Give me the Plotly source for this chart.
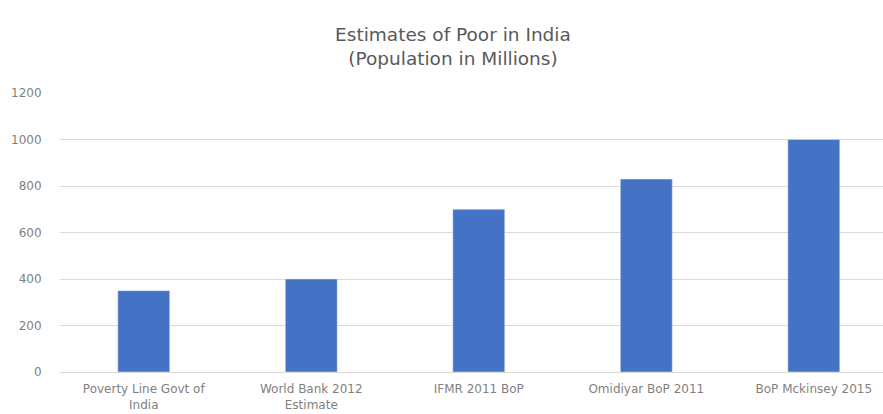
import plotly.graph_objects as go

categories = ["Poverty Line Govt of<br>India", "World Bank 2012<br>Estimate", "IFMR 2011 BoP",
              "Omidiyar BoP 2011", "BoP Mckinsey 2015"]
values = [350, 400, 700, 830, 1000]
y_ticks = [0, 200, 400, 600, 800, 1000, 1200]

fig = go.Figure(go.Bar(x=categories, y=values, marker_color="#4472C4", width=0.31))

fig.update_layout(
    width=883, height=414,
    margin=dict(l=60, r=0, t=93, b=42, autoexpand=False),
    paper_bgcolor="white", plot_bgcolor="white",
    font=dict(family="DejaVu Sans, sans-serif", color="#7f7f7f", size=11),
    title=dict(text="Estimates of Poor in India<br>(Population in Millions)",
               x=0.513, xanchor="center", y=0.9, yanchor="top",
               font=dict(size=18.5, color="#595959", family="DejaVu Sans, sans-serif")),
    showlegend=False,
)
fig.update_xaxes(type="category", range=[-0.5, 4.413], showgrid=False, automargin=False,
                 showline=True, linecolor="#d9d9d9", linewidth=1,
                 ticks="outside", ticklen=6, tickcolor="rgba(0,0,0,0)",
                 tickfont=dict(size=12, color="#7f7f7f"))
fig.update_yaxes(range=[0, 1200], tickvals=y_ticks, showgrid=True, gridcolor="#d9d9d9",
                 zeroline=False, showline=False, ticks="outside", ticklen=15, automargin=False,
                 tickcolor="rgba(0,0,0,0)", tickfont=dict(size=12, color="#7f7f7f"))

fig.write_html("out.html")
